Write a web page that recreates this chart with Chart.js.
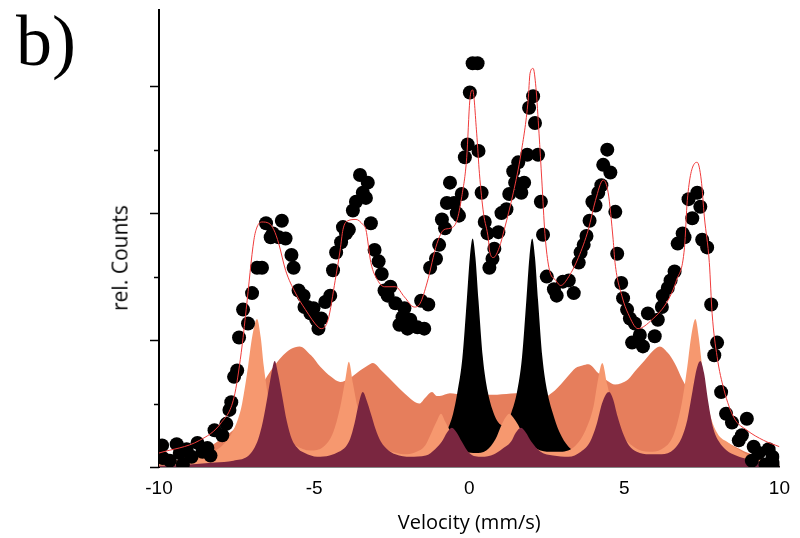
<!DOCTYPE html>
<html>
<head>
<meta charset="utf-8">
<script src="https://cdn.jsdelivr.net/npm/chart.js@4.4.1/dist/chart.umd.min.js"></script>
<style>
  html, body { margin: 0; padding: 0; background: #fff; }
  #wrap { position: relative; width: 800px; height: 538px; }
  #panel { position: absolute; left: 16px; top: 5px; font: 72px/72px "Liberation Serif", serif; color: #000; }
  #ylab { position: absolute; left: 120px; top: 258px; transform: translate(-50%, -50%) rotate(-90deg);
          font: 21px/21px "Open Sans", sans-serif; color: #000; white-space: nowrap; }
</style>
</head>
<body>
<div id="wrap">
  <canvas id="spectrum"></canvas>
  <div id="panel">b)</div>
  <div id="ylab">rel. Counts</div>
</div>
<script>
// measured counts [velocity mm/s, rel. counts]
const countsData = [
  [-9.90,0.17],[-9.87,0.07],[-9.65,0.05],[-9.43,0.18],[-9.33,0.11],[-9.23,0.02],[-9.11,0.14],[-8.95,0.08],
  [-8.76,0.19],[-8.60,0.12],[-8.44,0.15],[-8.34,0.09],[-8.21,0.29],[-7.96,0.25],[-7.83,0.34],[-7.73,0.45],
  [-7.67,0.51],[-7.58,0.71],[-7.48,0.76],[-7.42,1.02],[-7.29,1.24],[-7.13,1.13],[-7.00,1.37],[-6.84,1.57],
  [-6.68,1.57],[-6.55,1.92],[-6.40,1.81],[-6.33,1.84],[-6.14,1.81],[-6.04,1.94],[-5.92,1.80],[-5.73,1.67],
  [-5.66,1.57],[-5.50,1.39],[-5.34,1.35],[-5.31,1.26],[-5.21,1.26],[-5.12,1.21],[-5.02,1.25],[-4.93,1.16],
  [-4.86,1.09],[-4.77,1.17],[-4.64,1.30],[-4.48,1.35],[-4.39,1.55],[-4.29,1.69],[-4.13,1.77],[-4.07,1.89],
  [-3.97,1.84],[-3.88,1.87],[-3.75,2.02],[-3.65,2.09],[-3.52,2.30],[-3.43,2.16],[-3.33,2.12],[-3.27,2.24],
  [-3.17,1.92],[-3.05,1.71],[-2.92,1.62],[-2.82,1.52],[-2.73,1.39],[-2.63,1.35],[-2.54,1.42],[-2.38,1.29],
  [-2.25,1.12],[-2.15,1.18],[-2.09,1.25],[-1.99,1.09],[-1.90,1.16],[-1.67,1.10],[-1.55,1.31],[-1.45,1.09],
  [-1.32,1.28],[-1.26,1.57],[-1.07,1.64],[-0.97,1.75],[-0.88,1.95],[-0.78,1.88],[-0.72,2.08],[-0.62,2.24],
  [-0.49,2.08],[-0.40,2.00],[-0.33,1.98],[-0.24,2.15],[-0.14,2.44],[-0.05,2.54],[0.02,2.95],[0.11,3.18],
  [0.27,3.18],[0.30,2.49],[0.40,2.16],[0.50,1.93],[0.59,1.84],[0.65,1.57],[0.75,1.64],[0.81,1.72],
  [0.94,1.85],[1.04,2.00],[1.20,2.03],[1.29,2.15],[1.42,2.33],[1.48,2.24],[1.58,2.40],[1.68,2.16],
  [1.77,2.24],[1.87,2.46],[1.93,2.83],[2.06,2.92],[2.12,2.71],[2.22,2.46],[2.31,2.09],[2.38,1.83],
  [2.50,1.50],[2.73,1.40],[2.82,1.35],[3.02,1.46],[3.21,1.47],[3.37,1.37],[3.53,1.61],[3.59,1.69],
  [3.69,1.75],[3.78,1.82],[3.88,1.94],[3.97,2.09],[4.07,2.06],[4.16,2.16],[4.26,2.22],[4.32,2.38],
  [4.45,2.50],[4.55,2.32],[4.71,2.01],[4.77,1.68],[4.90,1.45],[4.96,1.33],[5.09,1.24],[5.18,1.17],
  [5.25,0.98],[5.34,1.13],[5.50,1.04],[5.60,0.95],[5.76,1.21],[5.98,1.03],[6.08,1.16],[6.21,1.26],
  [6.24,1.35],[6.40,1.41],[6.49,1.47],[6.62,1.54],[6.72,1.76],[6.88,1.84],[6.94,1.81],[7.07,2.11],
  [7.19,1.96],[7.35,2.16],[7.45,2.05],[7.51,1.79],[7.67,1.73],[7.80,1.28],[7.90,0.88],[7.99,0.98],
  [8.12,0.59],[8.28,0.42],[8.47,0.35],[8.69,0.21],[8.79,0.25],[8.95,0.38],[9.11,0.05],[9.17,0.16],
  [9.33,0.11],[9.55,0.02],[9.65,0.14],[9.78,0.08],[9.81,0.02]
];

// fitted envelope (red line)
const fitCurve = [
  [-10,0.11],[-8.69,0.21],[-7.99,0.35],[-7.58,0.55],[-7.35,0.90],[-7.19,1.24],[-6.94,1.79],[-6.84,1.89],
  [-6.68,1.93],[-6.46,1.92],[-6.30,1.87],[-6.14,1.76],[-5.92,1.55],[-5.60,1.37],[-5.28,1.24],[-4.86,1.10],
  [-4.77,1.09],[-4.55,1.16],[-4.32,1.47],[-4.16,1.71],[-4.07,1.87],[-3.91,1.94],[-3.65,1.95],[-3.43,1.91],
  [-3.33,1.87],[-3.17,1.61],[-2.95,1.47],[-2.73,1.42],[-2.38,1.42],[-2.09,1.34],[-1.77,1.26],[-1.58,1.29],
  [-1.36,1.45],[-1.04,1.76],[-0.81,1.87],[-0.62,1.88],[-0.40,1.94],[-0.24,2.13],[-0.08,2.44],[0.02,2.89],
  [0.11,2.97],[0.24,2.63],[0.33,2.31],[0.46,2.00],[0.62,1.79],[0.65,1.71],[0.78,1.65],[0.97,1.73],
  [1.13,1.87],[1.42,2.16],[1.67,2.47],[1.90,2.89],[1.96,3.10],[2.06,3.14],[2.15,2.99],[2.25,2.63],
  [2.34,2.26],[2.44,1.84],[2.57,1.57],[2.79,1.47],[2.95,1.43],[3.21,1.50],[3.52,1.65],[3.84,1.87],
  [4.07,2.10],[4.32,2.26],[4.48,2.16],[4.64,1.79],[4.70,1.61],[4.93,1.34],[5.12,1.21],[5.44,1.09],
  [5.89,1.16],[6.40,1.31],[6.68,1.47],[6.94,1.73],[7.03,2.10],[7.26,2.39],[7.35,2.40],[7.48,2.26],
  [7.58,1.97],[7.74,1.61],[7.83,1.21],[7.99,0.87],[8.21,0.61],[8.53,0.39],[8.95,0.29],[9.49,0.21],[10,0.16]
];

// sextet 1 (dark)
const sextetA = [
  [-10,0.01],[-9,0.02],[-8.2,0.035],[-7.6,0.05],[-7.16,0.08],[-6.95,0.14],[-6.8,0.22],[-6.65,0.36],
  [-6.5,0.56],[-6.38,0.73],[-6.27,0.835],[-6.16,0.73],[-6.03,0.56],[-5.88,0.36],[-5.72,0.22],[-5.5,0.14],
  [-5.3,0.11],[-4.9,0.08],[-4.5,0.09],[-4.2,0.12],[-3.98,0.16],[-3.84,0.22],[-3.7,0.34],[-3.56,0.5],
  [-3.43,0.59],[-3.3,0.52],[-3.17,0.42],[-3.02,0.3],[-2.85,0.2],[-2.6,0.13],[-2.38,0.1],[-1.9,0.08],
  [-1.4,0.09],[-1.1,0.14],[-0.88,0.2],[-0.72,0.27],[-0.56,0.31],[-0.4,0.27],[-0.24,0.2],[0.0,0.11],
  [0.4,0.08],[0.8,0.1],[1.05,0.14],[1.35,0.2],[1.5,0.27],[1.67,0.31],[1.83,0.27],[2.0,0.2],
  [2.3,0.12],[2.7,0.09],[3.2,0.08],[3.6,0.12],[3.9,0.2],[4.1,0.33],[4.28,0.5],[4.4,0.57],
  [4.51,0.59],[4.63,0.54],[4.78,0.4],[4.95,0.27],[5.15,0.17],[5.4,0.12],[5.8,0.1],[6.2,0.1],
  [6.6,0.14],[6.85,0.23],[7.03,0.37],[7.2,0.6],[7.33,0.77],[7.45,0.835],[7.57,0.74],[7.7,0.52],
  [7.85,0.32],[8.05,0.2],[8.3,0.13],[8.6,0.09],[9.0,0.06],[9.5,0.035],[10,0.02]
];

// sextet 2 (light)
const sextetB = [
  [-10,0.02],[-9.5,0.04],[-9,0.07],[-8.5,0.1],[-8.0,0.16],[-7.67,0.26],[-7.45,0.38],[-7.32,0.5],
  [-7.13,0.79],[-7.0,1.02],[-6.84,1.165],[-6.72,1.02],[-6.62,0.79],[-6.46,0.53],[-6.25,0.35],[-6.0,0.25],
  [-5.6,0.17],[-5.12,0.13],[-4.7,0.16],[-4.39,0.27],[-4.16,0.47],[-4.0,0.68],[-3.88,0.83],[-3.75,0.66],
  [-3.6,0.47],[-3.4,0.3],[-3.0,0.18],[-2.5,0.12],[-2.0,0.1],[-1.7,0.12],[-1.42,0.17],[-1.2,0.28],
  [-1.05,0.36],[-0.91,0.42],[-0.78,0.36],[-0.65,0.3],[-0.45,0.2],[-0.1,0.12],[0.2,0.11],[0.55,0.13],
  [0.85,0.22],[1.04,0.33],[1.17,0.39],[1.29,0.42],[1.42,0.39],[1.58,0.33],[1.8,0.22],[2.2,0.14],
  [2.6,0.12],[2.95,0.12],[3.43,0.17],[3.75,0.29],[4.0,0.47],[4.16,0.7],[4.29,0.82],[4.45,0.65],
  [4.65,0.44],[4.9,0.27],[5.3,0.16],[5.8,0.12],[6.2,0.14],[6.6,0.26],[6.85,0.5],[7.03,0.79],
  [7.15,1.02],[7.29,1.165],[7.4,1.02],[7.51,0.79],[7.73,0.45],[7.99,0.27],[8.37,0.19],[8.8,0.12],
  [9.1,0.08],[9.5,0.05],[10,0.03]
];

// broad distribution (medium)
const broadComp = [
  [-10,0.03],[-9.5,0.05],[-9,0.09],[-8.5,0.14],[-8,0.22],[-7.5,0.32],[-7.0,0.5],[-6.5,0.72],
  [-6.0,0.88],[-5.75,0.93],[-5.47,0.95],[-5.1,0.88],[-4.8,0.79],[-4.45,0.71],[-4.16,0.67],[-3.85,0.7],
  [-3.52,0.76],[-3.27,0.8],[-3.11,0.82],[-2.79,0.75],[-2.38,0.65],[-2.09,0.58],[-1.8,0.52],[-1.61,0.5],
  [-1.4,0.55],[-1.2,0.59],[-1.05,0.56],[-0.95,0.56],[-0.62,0.58],[-0.2,0.57],[0.3,0.57],[0.9,0.57],
  [1.5,0.58],[2.0,0.57],[2.4,0.55],[2.7,0.59],[2.95,0.65],[3.2,0.72],[3.43,0.78],[3.65,0.8],
  [3.84,0.81],[4.16,0.74],[4.45,0.68],[4.7,0.65],[4.9,0.66],[5.12,0.69],[5.4,0.77],[5.66,0.84],
  [5.9,0.91],[6.14,0.95],[6.4,0.9],[6.62,0.82],[6.87,0.69],[7.3,0.5],[7.7,0.33],[8.0,0.24],
  [8.5,0.17],[9.0,0.11],[9.5,0.07],[10,0.04]
];

// doublet (black)
const doublet = [
  [-10,0.01],[-5,0.02],[-3,0.04],[-2,0.07],[-1.5,0.1],[-1.1,0.16],[-0.75,0.27],[-0.52,0.42],
  [-0.38,0.59],[-0.22,0.86],[-0.08,1.31],[0.02,1.65],[0.11,1.8],[0.2,1.65],[0.3,1.31],[0.44,0.86],
  [0.6,0.59],[0.78,0.43],[0.94,0.35],[1.07,0.33],[1.2,0.35],[1.36,0.43],[1.54,0.59],[1.7,0.86],
  [1.84,1.31],[1.94,1.65],[2.03,1.8],[2.12,1.65],[2.22,1.31],[2.36,0.86],[2.52,0.59],[2.7,0.42],
  [2.9,0.28],[3.2,0.16],[3.6,0.1],[4.2,0.05],[5,0.03],[7,0.02],[10,0.01]
];

const xTicks = [-10, -5, 0, 5, 10];

const toXY = arr => arr.map(p => ({ x: p[0], y: p[1] }));

function area(data, color, order) {
    return {
        type: 'line',
        data: toXY(data),
        backgroundColor: color,
        borderWidth: 0,
        pointRadius: 0,
        fill: 'origin',
        cubicInterpolationMode: 'monotone',
        order: order
    };
}

// y axis ticks: long at whole units, short at halves
const yTickMarks = {
    id: 'yTickMarks',
    afterDraw(chart) {
        const ys = chart.scales.y;
        const x0 = chart.chartArea.left;
        const ctx = chart.ctx;
        ctx.save();
        ctx.strokeStyle = '#000';
        ctx.lineWidth = 1.5;
        ys.ticks.forEach(t => {
            if (Math.abs(t.value * 2 - Math.round(t.value * 2)) > 1e-6) return;
            const len = Number.isInteger(Math.round(t.value * 100) / 100) ? 9 : 5;
            const py = Math.round(ys.getPixelForValue(t.value)) + 0.5;
            ctx.beginPath();
            ctx.moveTo(x0 - len, py);
            ctx.lineTo(x0, py);
            ctx.stroke();
        });
        ctx.restore();
    }
};

new Chart(document.getElementById('spectrum'), {
    type: 'line',
    data: {
        datasets: [
            {
                type: 'line',
                data: toXY(fitCurve),
                borderColor: '#f03c3c',
                borderWidth: 1,
                pointRadius: 0,
                fill: false,
                cubicInterpolationMode: 'monotone',
                order: 0
            },
            {
                type: 'scatter',
                data: toXY(countsData),
                backgroundColor: '#000',
                borderWidth: 0,
                pointRadius: 7,
                order: 1
            },
            area(sextetA, '#7a2640', 2),
            area(sextetB, '#f6986f', 3),
            area(doublet, '#000000', 4),
            area(broadComp, '#e67e5c', 5)
        ]
    },
    options: {
        responsive: true,
        maintainAspectRatio: false,
        animation: false,
        layout: { padding: { top: 10, right: 14, left: 0, bottom: 0 } },
        plugins: { legend: { display: false }, tooltip: { enabled: false } },
        scales: {
            x: {
                type: 'linear',
                min: -10,
                max: 10,
                afterBuildTicks: s => { s.ticks = xTicks.map(v => ({ value: v })); },
                afterFit: s => { s.height = 71; },
                grid: { display: false, drawTicks: false },
                border: { color: '#111', width: 1.5 },
                ticks: {
                    color: '#000',
                    padding: 10,
                    maxRotation: 0,
                    font: { family: 'Liberation Sans, Arial, sans-serif', size: 19 }
                },
                title: {
                    display: true,
                    text: 'Velocity (mm/s)',
                    color: '#000',
                    font: { family: 'Open Sans', size: 20 },
                    padding: { top: 0, bottom: 3 }
                }
            },
            y: {
                min: 0,
                max: 3.6,
                afterFit: s => { s.width = 159; },
                grid: { display: false, drawTicks: false },
                border: { color: '#000', width: 2 },
                ticks: { display: false, stepSize: 0.5 }
            }
        }
    },
    plugins: [yTickMarks]
});
</script>
</body>
</html>
